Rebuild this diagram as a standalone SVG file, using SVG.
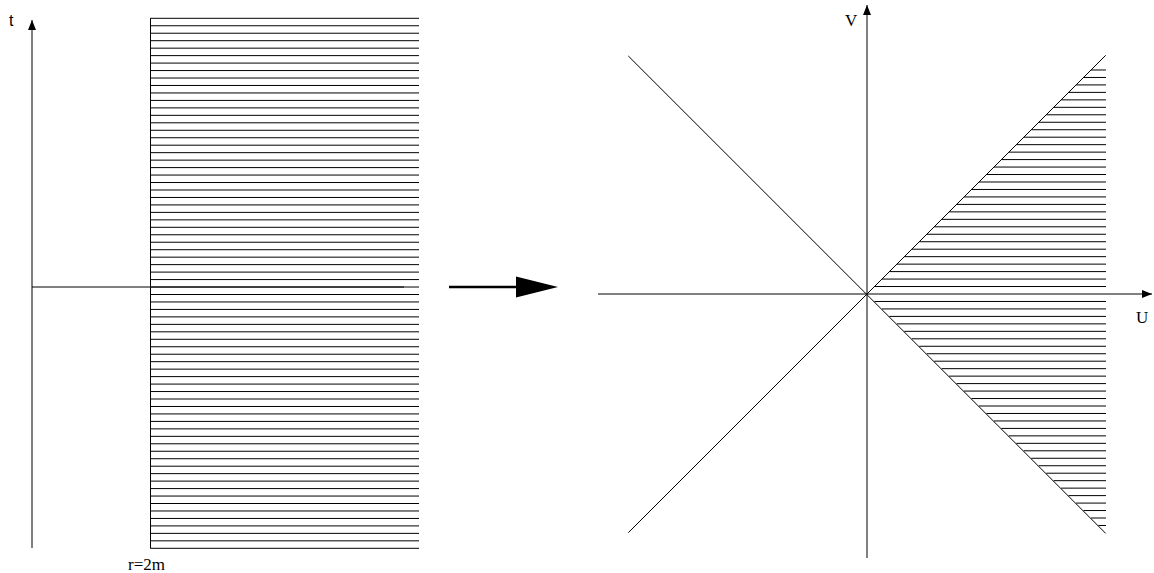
<svg xmlns="http://www.w3.org/2000/svg" width="1154" height="573" viewBox="0 0 1154 573">
<style>
.ln{stroke:#000;stroke-width:1;fill:none}
.hatch{stroke:#000;stroke-width:1;fill:none}
.serif{font-family:"Liberation Serif","Times New Roman",serif;font-size:17px;fill:#000}
.sans{font-family:"Liberation Sans",Arial,sans-serif;font-size:16px;fill:#000}
</style>
<defs>
<marker id="ah" viewBox="0 0 10 8" refX="10" refY="4" markerWidth="10" markerHeight="8" markerUnits="userSpaceOnUse" orient="auto">
<path d="M0,0 L10,4 L0,8 Z" fill="#000"/>
</marker>
</defs>
<g id="left-panel">
<path class="hatch" d="M150.5,18.3 H419 M150.5,25.76 H419 M150.5,33.23 H419 M150.5,40.69 H419 M150.5,48.16 H419 M150.5,55.62 H419 M150.5,63.09 H419 M150.5,70.55 H419 M150.5,78.02 H419 M150.5,85.48 H419 M150.5,92.95 H419 M150.5,100.41 H419 M150.5,107.88 H419 M150.5,115.34 H419 M150.5,122.81 H419 M150.5,130.27 H419 M150.5,137.74 H419 M150.5,145.2 H419 M150.5,152.67 H419 M150.5,160.13 H419 M150.5,167.6 H419 M150.5,175.06 H419 M150.5,182.53 H419 M150.5,189.99 H419 M150.5,197.46 H419 M150.5,204.92 H419 M150.5,212.38 H419 M150.5,219.85 H419 M150.5,227.31 H419 M150.5,234.78 H419 M150.5,242.24 H419 M150.5,249.71 H419 M150.5,257.17 H419 M150.5,264.64 H419 M150.5,272.1 H419 M150.5,279.57 H419 M150.5,287.03 H419 M150.5,294.5 H419 M150.5,301.96 H419 M150.5,309.43 H419 M150.5,316.89 H419 M150.5,324.36 H419 M150.5,331.82 H419 M150.5,339.29 H419 M150.5,346.75 H419 M150.5,354.22 H419 M150.5,361.68 H419 M150.5,369.15 H419 M150.5,376.61 H419 M150.5,384.08 H419 M150.5,391.54 H419 M150.5,399 H419 M150.5,406.47 H419 M150.5,413.93 H419 M150.5,421.4 H419 M150.5,428.86 H419 M150.5,436.33 H419 M150.5,443.79 H419 M150.5,451.26 H419 M150.5,458.72 H419 M150.5,466.19 H419 M150.5,473.65 H419 M150.5,481.12 H419 M150.5,488.58 H419 M150.5,496.05 H419 M150.5,503.51 H419 M150.5,510.98 H419 M150.5,518.44 H419 M150.5,525.91 H419 M150.5,533.37 H419 M150.5,540.84 H419 M150.5,548.3 H419"/>
<line class="ln" x1="150.5" y1="18" x2="150.5" y2="548.5"/>
<line class="ln" x1="32" y1="287" x2="404" y2="287"/>
<line class="ln" x1="32" y1="548" x2="32" y2="20" marker-end="url(#ah)"/>
<text class="sans" x="9" y="26">t</text>
<text class="serif" x="128" y="570">r=2m</text>
</g>
<g id="map-arrow">
<line x1="449" y1="287" x2="518" y2="287" stroke="#000" stroke-width="2.7"/>
<path d="M516,276.5 L558,287 L516,297.5 Z" fill="#000"/>
</g>
<g id="right-panel">
<path class="hatch" d="M874.47,286.53 H1106 M881.93,279.07 H1106 M889.4,271.6 H1106 M896.87,264.13 H1106 M904.34,256.66 H1106 M911.8,249.2 H1106 M919.27,241.73 H1106 M926.74,234.26 H1106 M934.2,226.8 H1106 M941.67,219.33 H1106 M949.14,211.86 H1106 M956.6,204.4 H1106 M964.07,196.93 H1106 M971.54,189.46 H1106 M979.01,181.99 H1106 M986.47,174.53 H1106 M993.94,167.06 H1106 M1001.41,159.59 H1106 M1008.87,152.13 H1106 M1016.34,144.66 H1106 M1023.81,137.19 H1106 M1031.27,129.73 H1106 M1038.74,122.26 H1106 M1046.21,114.79 H1106 M1053.68,107.32 H1106 M1061.14,99.86 H1106 M1068.61,92.39 H1106 M1076.08,84.92 H1106 M1083.54,77.46 H1106 M1091.01,69.99 H1106 M874.47,301.47 H1106 M881.93,308.93 H1106 M889.4,316.4 H1106 M896.87,323.87 H1106 M904.34,331.34 H1106 M911.8,338.8 H1106 M919.27,346.27 H1106 M926.74,353.74 H1106 M934.2,361.2 H1106 M941.67,368.67 H1106 M949.14,376.14 H1106 M956.6,383.6 H1106 M964.07,391.07 H1106 M971.54,398.54 H1106 M979.01,406.01 H1106 M986.47,413.47 H1106 M993.94,420.94 H1106 M1001.41,428.41 H1106 M1008.87,435.87 H1106 M1016.34,443.34 H1106 M1023.81,450.81 H1106 M1031.27,458.27 H1106 M1038.74,465.74 H1106 M1046.21,473.21 H1106 M1053.68,480.68 H1106 M1061.14,488.14 H1106 M1068.61,495.61 H1106 M1076.08,503.08 H1106 M1083.54,510.54 H1106 M1091.01,518.01 H1106 M1098.48,525.48 H1106"/>
<line class="ln" x1="628.3" y1="56" x2="1105.7" y2="533.4"/>
<line class="ln" x1="628.3" y1="532.7" x2="1105.7" y2="55.3"/>
<line class="ln" x1="598" y1="294" x2="1152" y2="294" marker-end="url(#ah)"/>
<line class="ln" x1="867" y1="558" x2="867" y2="5" marker-end="url(#ah)"/>
<text class="serif" x="845" y="26">V</text>
<text class="serif" x="1136" y="323">U</text>
</g>
</svg>
